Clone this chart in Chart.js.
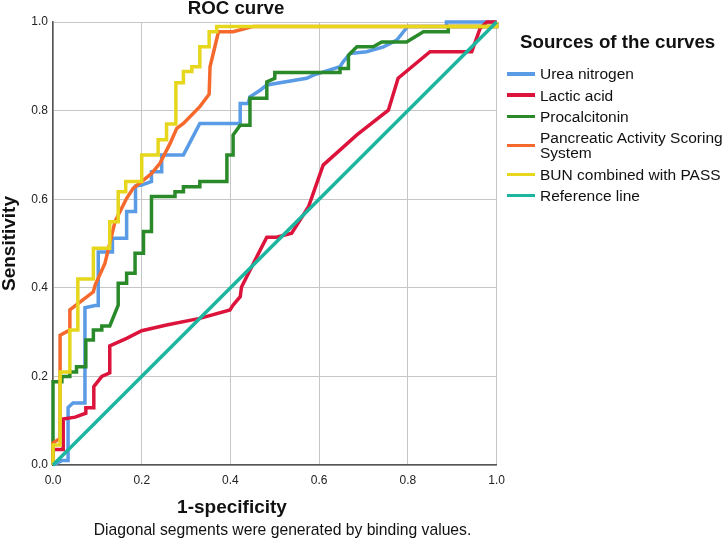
<!DOCTYPE html>
<html>
<head>
<meta charset="utf-8">
<title>ROC curve</title>
<script src="https://cdn.jsdelivr.net/npm/chart.js@4.4.1/dist/chart.umd.min.js"></script>
<style>
  body { margin: 0; background: #fff; font-family: "Liberation Sans", Arial, sans-serif; color: #111; }
  #wrap { position: relative; width: 726px; height: 539px; overflow: hidden; }
  #wrap canvas { position: absolute; left: 0; top: 0; }
  .lbl { position: absolute; white-space: nowrap; transform: translateX(-50%); }
  #chartTitle { left: 236px; top: -1px; font-size: 18.7px; line-height: 18.7px; font-weight: bold; }
  #xTitle { left: 232px; top: 496.5px; font-size: 19px; line-height: 19px; font-weight: bold; }
  #footnote { left: 282.5px; top: 521.7px; font-size: 15.7px; line-height: 15.7px; }
  #legend { position: absolute; left: 507px; top: 32.5px; }
  #legend .head { font-size: 18.7px; line-height: 18.7px; font-weight: bold; margin-left: 13px; margin-bottom: 15px; white-space: nowrap; }
  #legend .item { display: flex; align-items: center; margin-bottom: 6px; }
  #legend .swatch { width: 28px; height: 3.5px; margin-right: 5px; flex: none; }
  #legend .name { font-size: 15.5px; line-height: 15.3px; white-space: pre-line; }
</style>
</head>
<body>
<div id="wrap">
  <canvas id="roc"></canvas>
  <div id="chartTitle" class="lbl">ROC curve</div>
  <div id="xTitle" class="lbl">1-specificity</div>
  <div id="footnote" class="lbl">Diagonal segments were generated by binding values.</div>
  <div id="legend">
    <div class="head">Sources of the curves</div>
    <div id="legendItems"></div>
  </div>
</div>
<script>
// Series names (legend text, "\n" marks where the legend wraps)
const seriesNames = [
  "Urea nitrogen",
  "Lactic acid",
  "Procalcitonin",
  "Pancreatic Activity Scoring\nSystem",
  "BUN combined with PASS",
  "Reference line"
];

const seriesColors = ["#5a9be6", "#dc143c", "#2a8a2a", "#f5692d", "#e6d61c", "#1db5a0"];

// 1-specificity (x) and sensitivity (y)
const ureaX = [0, 0.02, 0.034, 0.034, 0.045, 0.072, 0.072, 0.095, 0.102, 0.102, 0.134, 0.134, 0.166, 0.166, 0.186, 0.186, 0.2, 0.222, 0.222, 0.245, 0.245, 0.294, 0.331, 0.422, 0.422, 0.44, 0.444, 0.467, 0.482, 0.572, 0.587, 0.647, 0.654, 0.67, 0.707, 0.745, 0.775, 0.79, 0.8, 0.887, 0.887, 0.963, 1];
const ureaY = [0, 0.01, 0.01, 0.13, 0.14, 0.14, 0.355, 0.36, 0.36, 0.481, 0.481, 0.512, 0.512, 0.572, 0.572, 0.63, 0.632, 0.64, 0.662, 0.662, 0.70, 0.70, 0.771, 0.771, 0.816, 0.816, 0.831, 0.846, 0.858, 0.873, 0.88, 0.899, 0.91, 0.929, 0.933, 0.944, 0.959, 0.978, 0.99, 0.99, 1, 1, 1];

const lacticX = [0, 0, 0.023, 0.023, 0.05, 0.074, 0.074, 0.092, 0.092, 0.11, 0.128, 0.128, 0.166, 0.2, 0.256, 0.331, 0.399, 0.406, 0.422, 0.425, 0.467, 0.482, 0.504, 0.538, 0.576, 0.609, 0.685, 0.756, 0.778, 0.85, 0.944, 0.963, 0.978, 1];
const lacticY = [0, 0.035, 0.035, 0.104, 0.108, 0.117, 0.129, 0.129, 0.177, 0.2, 0.208, 0.269, 0.286, 0.303, 0.316, 0.331, 0.35, 0.361, 0.38, 0.402, 0.485, 0.514, 0.514, 0.523, 0.583, 0.677, 0.745, 0.801, 0.873, 0.933, 0.933, 0.986, 1, 1];

const pctX = [0, 0, 0.02, 0.02, 0.038, 0.038, 0.053, 0.053, 0.074, 0.074, 0.091, 0.091, 0.11, 0.11, 0.128, 0.147, 0.147, 0.166, 0.166, 0.185, 0.185, 0.204, 0.204, 0.222, 0.222, 0.275, 0.275, 0.294, 0.294, 0.331, 0.331, 0.392, 0.392, 0.406, 0.406, 0.422, 0.444, 0.444, 0.482, 0.482, 0.5, 0.5, 0.647, 0.647, 0.666, 0.666, 0.685, 0.722, 0.741, 0.797, 0.835, 0.891, 0.891, 1, 1];
const pctY = [0, 0.188, 0.188, 0.2, 0.2, 0.21, 0.21, 0.222, 0.222, 0.282, 0.282, 0.305, 0.305, 0.314, 0.314, 0.361, 0.41, 0.41, 0.433, 0.433, 0.478, 0.478, 0.527, 0.527, 0.606, 0.606, 0.617, 0.617, 0.628, 0.628, 0.64, 0.64, 0.70, 0.70, 0.745, 0.767, 0.767, 0.828, 0.828, 0.865, 0.873, 0.886, 0.886, 0.895, 0.895, 0.925, 0.944, 0.944, 0.955, 0.955, 0.978, 0.978, 0.99, 0.99, 1];

const passX = [0, 0, 0.016, 0.016, 0.031, 0.038, 0.038, 0.057, 0.091, 0.095, 0.117, 0.14, 0.166, 0.181, 0.204, 0.222, 0.241, 0.264, 0.279, 0.294, 0.331, 0.352, 0.354, 0.373, 0.406, 0.452, 1, 1];
const passY = [0, 0.05, 0.06, 0.293, 0.301, 0.305, 0.35, 0.365, 0.391, 0.406, 0.455, 0.55, 0.602, 0.625, 0.643, 0.658, 0.681, 0.726, 0.76, 0.771, 0.809, 0.837, 0.899, 0.978, 0.978, 0.99, 0.99, 1];

const bunPassX = [0, 0, 0.016, 0.016, 0.038, 0.038, 0.056, 0.056, 0.091, 0.091, 0.128, 0.128, 0.147, 0.147, 0.164, 0.164, 0.2, 0.2, 0.237, 0.237, 0.256, 0.256, 0.277, 0.277, 0.294, 0.294, 0.313, 0.313, 0.331, 0.331, 0.352, 0.352, 0.369, 0.369, 1, 1];
const bunPassY = [0, 0.045, 0.045, 0.21, 0.21, 0.305, 0.305, 0.42, 0.42, 0.489, 0.489, 0.549, 0.549, 0.617, 0.617, 0.64, 0.64, 0.70, 0.70, 0.734, 0.734, 0.77, 0.77, 0.863, 0.863, 0.888, 0.888, 0.899, 0.899, 0.944, 0.944, 0.978, 0.978, 0.99, 0.99, 1];

const refX = [0, 1];
const refY = [0, 1];

const axisTicks = [0, 0.2, 0.4, 0.6, 0.8, 1.0];

const seriesX = [ureaX, lacticX, pctX, passX, bunPassX, refX];
const seriesY = [ureaY, lacticY, pctY, passY, bunPassY, refY];

// pair x/y arrays into points for the linear x scale
function toPoints(xs, ys) {
  const pts = [];
  for (let i = 0; i < xs.length; i++) {
    pts.push({ x: xs[i], y: ys[i] });
  }
  return pts;
}

const datasets = seriesNames.map(function(name, i) {
  return {
    label: name.replace("\n", " "),
    data: toPoints(seriesX[i], seriesY[i]),
    borderColor: seriesColors[i],
    backgroundColor: seriesColors[i],
    borderWidth: 3.5,
    pointRadius: 0,
    tension: 0,
    fill: false,
    clip: 5,
    borderJoinStyle: "miter",
    order: seriesNames.length - i // later series drawn on top, like the original
  };
});

// legend built as plain html so the long label can wrap
const legendBox = document.getElementById("legendItems");
seriesNames.forEach(function(name, i) {
  const row = document.createElement("div");
  row.className = "item";
  const sw = document.createElement("div");
  sw.className = "swatch";
  sw.style.background = seriesColors[i];
  const tx = document.createElement("div");
  tx.className = "name";
  tx.textContent = name;
  row.appendChild(sw);
  row.appendChild(tx);
  legendBox.appendChild(row);
});

const tickFont = { family: "'Liberation Sans', Arial, sans-serif", size: 12 };
const gridColor = "#c6c6c6";
const axisColor = "#555555";

new Chart(document.getElementById("roc"), {
  type: "line",
  data: { datasets: datasets },
  options: {
    responsive: true,
    maintainAspectRatio: false,
    animation: false,
    layout: { padding: { top: 22, right: 229.4, left: 0, bottom: 0 } },
    plugins: {
      legend: { display: false },
      tooltip: { enabled: false },
      title: { display: false }
    },
    scales: {
      x: {
        type: "linear",
        min: 0,
        max: 1,
        afterBuildTicks: function(scale) {
          scale.ticks = axisTicks.map(function(v) { return { value: v }; });
        },
        afterFit: function(scale) { scale.height = 74; },
        grid: { color: gridColor, lineWidth: 1, drawTicks: false },
        border: { color: axisColor, width: 1.5 },
        ticks: {
          color: "#222",
          font: tickFont,
          padding: 8,
          maxRotation: 0,
          callback: function(value) { return value.toFixed(1); }
        }
      },
      y: {
        type: "linear",
        min: 0,
        max: 1,
        afterBuildTicks: function(scale) {
          scale.ticks = axisTicks.map(function(v) { return { value: v }; });
        },
        afterFit: function(scale) { scale.width = 53; },
        grid: { color: gridColor, lineWidth: 1, drawTicks: false },
        border: { color: axisColor, width: 1.5 },
        ticks: {
          color: "#222",
          font: tickFont,
          padding: 5,
          callback: function(value) { return value.toFixed(1); }
        },
        title: {
          display: true,
          text: "Sensitivity",
          color: "#111",
          font: { family: "'Liberation Sans', Arial, sans-serif", size: 19, weight: "bold", lineHeight: 1 },
          padding: { top: 0, bottom: 0 }
        }
      }
    }
  }
});
</script>
</body>
</html>
